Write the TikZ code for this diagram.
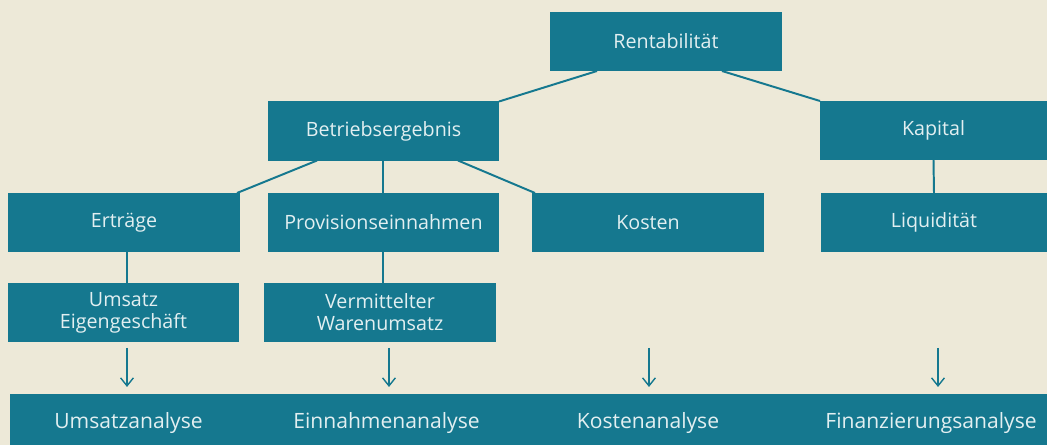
\documentclass[tikz,border=0pt]{standalone}
\usepackage{fontspec}
\setmainfont{Open Sans}
\usetikzlibrary{arrows.meta,calc}
\definecolor{petrol}{RGB}{21,120,143}
\definecolor{sand}{RGB}{237,233,216}
\definecolor{hell}{RGB}{226,239,241}
\begin{document}
\begin{tikzpicture}[x=0.025cm,y=-0.025cm,line join=round,
	kasten/.style={fill=petrol,text=hell,inner sep=0pt,outer sep=0pt,
		minimum width=5.8cm,minimum height=1.475cm,align=center,
		font=\fontsize{14}{15.6}\selectfont},
	linie/.style={draw=petrol,line width=1.4pt},
	pfeil/.style={draw=petrol,line width=1pt,shorten >=0.275cm,
		-{Straight Barb[length=0.2cm,width=0.32cm]}},
	analyse/.style={text=hell,inner sep=0pt,outer sep=0pt,minimum height=1.275cm,
		font=\fontsize{15}{18}\selectfont}]
	% hintergrund
	\fill[sand] (0,0) rectangle (1047,445);
	\useasboundingbox (0,0) rectangle (1047,445);
	% obere ebenen
	\node[kasten] (rent) at (666,41.5) {Rentabilität};
	\node[kasten,minimum width=5.775cm] (betrieb) at (383.5,131) {Betriebsergebnis};
	\node[kasten,minimum width=5.675cm] (kapital) at (933.5,130.5) {Kapital};
	\node[kasten] (ertrag) at (124,222.5) {Erträge};
	\node[kasten,minimum width=5.775cm] (prov) at (383.5,222.5) {Provisionseinnahmen};
	\node[kasten] (kosten) at (648,222.5) {Kosten};
	\node[kasten,minimum width=5.65cm] (liqui) at (934,222.5) {Liquidität};
	\node[kasten,minimum width=5.775cm] (umsatz) at (123.5,312.5) {Umsatz\\Eigengeschäft};
	\node[kasten] (verm) at (380,312.5) {Vermittelter\\Warenumsatz};
	% verbindungen
	\draw[linie] ($(rent.south west)+(47,0)$) -- (betrieb.north east);
	\draw[linie] ($(rent.south east)+(-60,0)$) -- (kapital.north west);
	\draw[linie] ($(betrieb.south west)+(49,0)$) -- ($(ertrag.north east)+(-3,0)$);
	\draw[linie] ($(betrieb.south)+(-0.5,0)$) coordinate (b1) -- (b1 |- prov.north);
	\draw[linie] ($(betrieb.south east)+(-41,0)$) -- ($(kosten.north west)+(3,0)$);
	\draw[linie] (kapital.south) -- (liqui.north);
	\draw[linie] ($(ertrag.south)+(3,0)$) coordinate (e1) -- (e1 |- umsatz.north);
	\draw[linie] ($(prov.south)+(-0.5,0)$) coordinate (v1) -- (v1 |- verm.north);
	% untere leiste
	\fill[petrol] (10,394) rectangle (1047,445);
	\node[analyse] (a1) at (128.5,423.5) {Umsatzanalyse};
	\node[analyse] (a2) at (386.5,423.5) {Einnahmenanalyse};
	\node[analyse] (a3) at (648,423.5) {Kostenanalyse};
	\node[analyse] (a4) at (931,423.5) {Finanzierungsanalyse};
	\path (127,348) coordinate (p1) (389,348) coordinate (p2)
		(649,348) coordinate (p3) (938,348) coordinate (p4);
	\foreach \i in {1,...,4}
		\draw[pfeil] (p\i) -- (p\i |- a\i.north);
\end{tikzpicture}
\end{document}
